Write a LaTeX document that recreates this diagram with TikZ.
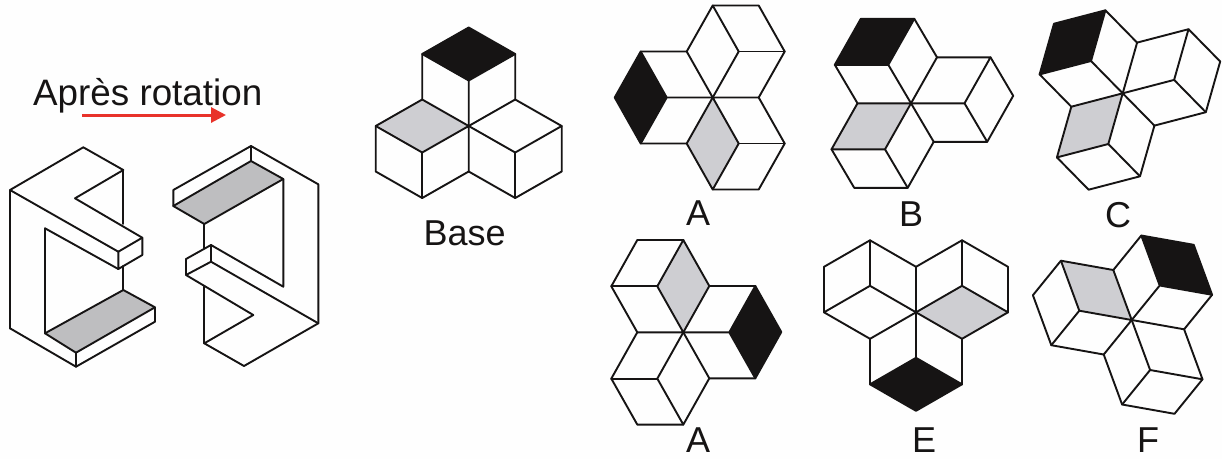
\documentclass[tikz,border=0pt]{standalone}
\usepackage{fontspec}
\setmainfont{Liberation Sans}
\usepackage{tikz}
\usetikzlibrary{arrows.meta}
\definecolor{paper}{RGB}{254,254,254}
\definecolor{ink}{RGB}{22,20,20}
\definecolor{facegray}{RGB}{206,206,210}
\definecolor{solidgray}{RGB}{190,190,192}
\definecolor{arrowred}{RGB}{232,50,42}
\tikzset{
  edges/.style={draw=ink,line width=1.9pt,line join=round,line cap=round},
  optlabel/.style={inner sep=0pt,text=ink,font=\fontsize{36}{36}\selectfont},
}
% one figure: center, then the three edge vectors leaving the center
\newcommand{\cubecluster}[4]{
  \begin{scope}[shift={(#1)},x={(#2)},y={(#3)},z={(#4)}]
    \fill[ink] (0,0,-1) -- (-1,0,-1) -- (-1,-1,-1) -- (0,-1,-1) -- cycle;
    \fill[facegray] (0,0,0) -- (-1,0,0) -- (-1,1,0) -- (0,1,0) -- cycle;
    %top cube
    \draw[edges] (0,0,0) -- (0,0,-1) -- (-1,0,-1) -- (-1,-1,-1) -- (0,-1,-1) -- (0,0,-1);
    \draw[edges] (-1,0,-1) -- (-1,0,0) -- (0,0,0) -- (0,-1,0) -- (0,-1,-1);
    %second cube
    \draw[edges] (-1,0,0) -- (-1,1,0) -- (0,1,0) -- (0,0,0) -- (0,0,1);
    \draw[edges] (-1,1,0) -- (-1,1,1) -- (0,1,1) -- (0,0,1);
    \draw[edges] (0,1,0) -- (0,1,1);
    %third cube
    \draw[edges] (0,-1,0) -- (1,-1,0) -- (1,0,0) -- (0,0,0);
    \draw[edges] (1,-1,0) -- (1,-1,1) -- (1,0,1) -- (0,0,1);
    \draw[edges] (1,0,0) -- (1,0,1);
  \end{scope}
}
\begin{document}
\begin{tikzpicture}[x=1pt,y=-1pt]
    \useasboundingbox (0,0) rectangle (1222,459);
    \fill[paper] (0,0) rectangle (1222,459);
    %title and arrow
    \node[anchor=base west,inner sep=0pt,text=ink,font=\fontsize{36.8}{36.8}\selectfont] (title) at (33,105) {Après rotation};
    \coordinate (arrowstart) at (82,115);
    \coordinate (arrowend) at (226,115);
    \draw[arrowred,line width=3pt,-{Triangle[length=15pt,width=15pt]}] (arrowstart) -- (arrowend);
    %left solid
    \coordinate (l1) at (83.3,147.3);
    \coordinate (l2) at (123.3,170);
    \coordinate (l3) at (10,190);
    \coordinate (l4) at (10,328.3);
    \coordinate (l5) at (76,366.7);
    \coordinate (l6) at (155,321.7);
    \coordinate (l7) at (155,307.3);
    \coordinate (l8) at (123.3,290);
    \coordinate (l9) at (45,333.3);
    \coordinate (l10) at (45,228.3);
    \coordinate (l11) at (118.3,251.7);
    \coordinate (l12) at (118.3,269);
    \coordinate (l13) at (142.3,255);
    \coordinate (l14) at (142.3,237.7);
    \coordinate (l15) at (75,198.3);
    \coordinate (l16) at (76,352.7);
    \coordinate (l17) at (123.3,224);
    \coordinate (l18) at (123.3,266);
    \fill[solidgray] (l9) -- (l8) -- (l7) -- (l16) -- cycle;
    \draw[edges] (l4) -- (l3) -- (l1) -- (l2) -- (l15) -- (l14) -- (l13) -- (l12) -- (l11) -- (l3);
    \draw[edges] (l4) -- (l5) -- (l6) -- (l7) -- (l8) -- (l9) -- (l16) -- (l7);
    \draw[edges] (l5) -- (l16);
    \draw[edges] (l9) -- (l10) -- (l12);
    \draw[edges] (l11) -- (l14);
    \draw[edges] (l2) -- (l17);
    \draw[edges] (l18) -- (l8);
    %right solid
    \coordinate (r1) at (251,146);
    \coordinate (r2) at (318.3,184.3);
    \coordinate (r3) at (318.3,323.3);
    \coordinate (r4) at (244,366);
    \coordinate (r5) at (204.3,343.3);
    \coordinate (r6) at (253.3,315);
    \coordinate (r7) at (186,275);
    \coordinate (r8) at (186,259);
    \coordinate (r9) at (211,245);
    \coordinate (r10) at (211,261.7);
    \coordinate (r11) at (283.3,286.7);
    \coordinate (r12) at (283.3,179);
    \coordinate (r13) at (251,161);
    \coordinate (r14) at (173.3,190);
    \coordinate (r15) at (173.3,206);
    \coordinate (r16) at (204.3,224);
    \coordinate (r17) at (204.3,248.7);
    \coordinate (r18) at (204.3,286.7);
    \fill[solidgray] (r15) -- (r13) -- (r12) -- (r16) -- cycle;
    \draw[edges] (r15) -- (r14) -- (r1) -- (r2) -- (r3) -- (r4) -- (r5) -- (r6) -- (r7) -- (r8) -- (r9) -- (r10) -- (r7);
    \draw[edges] (r1) -- (r13) -- (r12) -- (r16) -- (r15) -- (r13);
    \draw[edges] (r12) -- (r11) -- (r9);
    \draw[edges] (r10) -- (r3);
    \draw[edges] (r16) -- (r17);
    \draw[edges] (r18) -- (r5);
    %figures
    \cubecluster{468.7,126}{46.5pt,-26.5pt}{-46.5pt,-26.5pt}{0pt,-45.5pt}
    \cubecluster{712.7,97.5}{26pt,46pt}{26pt,-46pt}{46pt,0pt}
    \cubecluster{911,103.3}{53.5pt,0pt}{-26pt,-46pt}{22.7pt,-38.5pt}
    \cubecluster{1122.7,93.3}{51.4pt,13.4pt}{-14.4pt,-50.7pt}{31.7pt,-32.3pt}
    \cubecluster{683.3,332.3}{-26pt,-46.3pt}{-26pt,46pt}{-46pt,0pt}
    \cubecluster{916,312.3}{-46pt,26.5pt}{46pt,26.5pt}{0pt,45.5pt}
    \cubecluster{1131.7,320}{18.4pt,-50pt}{-52.4pt,9.3pt}{-28pt,-34.5pt}
    %labels
    \node[optlabel] (base) at (464.7,233) {Base};
    \node[optlabel] (labela) at (698,213) {A};
    \node[optlabel] (labelb) at (911,214.5) {B};
    \node[optlabel] (labelc) at (1118,215) {C};
    \node[optlabel] (labeld) at (698,440) {A};
    \node[optlabel] (labele) at (924,440) {E};
    \node[optlabel] (labelf) at (1148,440) {F};
\end{tikzpicture}
\end{document}
